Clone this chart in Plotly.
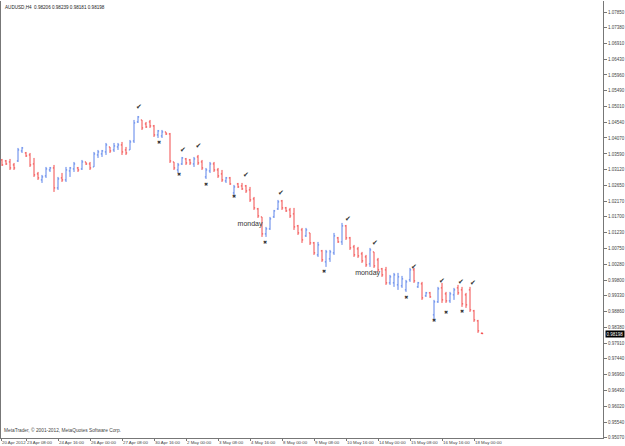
import plotly.graph_objects as go

# ---- data (AUDUSD H4) ----
opens = [1.0341,1.0338,1.0335,1.0326,1.0338,1.0368,1.0362,1.0356,1.0329,1.0299,
         1.0281,1.0293,1.0311,1.0317,1.0257,1.0287,1.0281,1.0308,1.0314,1.0317,
         1.0314,1.0335,1.0329,1.0320,1.0356,1.0359,1.0365,1.0380,1.0371,1.0380,
         1.0386,1.0371,1.0371,1.0398,1.0455,1.0461,1.0449,1.0455,1.0443,1.0416,
         1.0413,1.0425,1.0419,1.0335,1.0311,1.0329,1.0344,1.0341,1.0329,1.0350,
         1.0335,1.0290,1.0308,1.0329,1.0311,1.0299,1.0278,1.0287,1.0242,1.0269,
         1.0263,1.0263,1.0251,1.0224,1.0194,1.0170,1.0119,1.0134,1.0170,1.0194,
         1.0218,1.0197,1.0191,1.0179,1.0143,1.0131,1.0113,1.0122,1.0092,1.0056,
         1.0068,1.0035,1.0044,1.0062,1.0107,1.0095,1.0143,1.0107,1.0080,1.0074,
         1.0059,1.0050,1.0029,1.0065,1.0041,1.0014,1.0011,0.9972,0.9972,0.9966,
         0.9963,0.9951,0.9981,1.0011,0.9960,0.9969,0.9933,0.9942,0.9876,0.9915,
         0.9957,0.9939,0.9918,0.9936,0.9957,0.9951,0.9936,0.9951,0.9888,0.9858,
         0.98206]
highs = [1.0344,1.0341,1.0344,1.0332,1.0377,1.0380,1.0365,1.0362,1.0347,1.0305,
         1.0296,1.0320,1.0320,1.0326,1.0290,1.0302,1.0320,1.0320,1.0335,1.0320,
         1.0341,1.0335,1.0335,1.0365,1.0371,1.0371,1.0392,1.0380,1.0392,1.0392,
         1.0395,1.0380,1.0401,1.0461,1.0473,1.0461,1.0455,1.0461,1.0446,1.0431,
         1.0431,1.0425,1.0422,1.0335,1.0332,1.0350,1.0347,1.0344,1.0350,1.0356,
         1.0341,1.0317,1.0335,1.0335,1.0317,1.0311,1.0290,1.0290,1.0266,1.0272,
         1.0272,1.0266,1.0260,1.0230,1.0197,1.0170,1.0140,1.0170,1.0191,1.0221,
         1.0221,1.0200,1.0197,1.0197,1.0146,1.0137,1.0137,1.0122,1.0095,1.0095,
         1.0071,1.0071,1.0071,1.0122,1.0110,1.0152,1.0146,1.0110,1.0086,1.0080,
         1.0065,1.0056,1.0077,1.0065,1.0047,1.0017,1.0020,0.9996,1.0002,1.0002,
         0.9993,0.9981,1.0017,1.0017,0.9975,0.9975,0.9945,0.9945,0.9921,0.9960,
         0.9972,0.9945,0.9945,0.9957,0.9966,0.9960,0.9942,0.9960,0.9891,0.9861,
         0.98239]
lows = [1.0323,1.0326,1.0311,1.0311,1.0335,1.0362,1.0350,1.0320,1.0290,1.0281,
        1.0272,1.0287,1.0305,1.0245,1.0251,1.0275,1.0275,1.0290,1.0305,1.0305,
        1.0311,1.0326,1.0311,1.0320,1.0347,1.0350,1.0356,1.0362,1.0365,1.0371,
        1.0356,1.0356,1.0371,1.0392,1.0452,1.0431,1.0437,1.0437,1.0410,1.0407,
        1.0407,1.0416,1.0332,1.0311,1.0302,1.0326,1.0326,1.0326,1.0320,1.0326,
        1.0311,1.0284,1.0302,1.0305,1.0287,1.0275,1.0272,1.0266,1.0236,1.0257,
        1.0251,1.0242,1.0215,1.0191,1.0167,1.0110,1.0110,1.0131,1.0167,1.0191,
        1.0191,1.0185,1.0167,1.0131,1.0116,1.0092,1.0110,1.0086,1.0056,1.0050,
        1.0035,1.0020,1.0035,1.0056,1.0092,1.0086,1.0101,1.0071,1.0050,1.0047,
        1.0032,1.0020,1.0020,1.0017,1.0005,0.9990,0.9966,0.9966,0.9960,0.9951,
        0.9957,0.9945,0.9975,0.9972,0.9957,0.9921,0.9930,0.9927,0.9861,0.9912,
        0.9912,0.9912,0.9912,0.9921,0.9936,0.9900,0.9897,0.9885,0.9855,0.9822,
        0.98181]
closes = [1.0326,1.0329,1.0317,1.0317,1.0371,1.0377,1.0353,1.0326,1.0296,1.0287,
          1.0290,1.0314,1.0317,1.0257,1.0284,1.0281,1.0311,1.0317,1.0329,1.0311,
          1.0335,1.0329,1.0317,1.0359,1.0365,1.0368,1.0386,1.0368,1.0383,1.0386,
          1.0365,1.0362,1.0395,1.0452,1.0470,1.0437,1.0440,1.0443,1.0416,1.0428,
          1.0425,1.0419,1.0338,1.0317,1.0326,1.0347,1.0332,1.0332,1.0344,1.0332,
          1.0317,1.0311,1.0329,1.0311,1.0293,1.0281,1.0287,1.0269,1.0260,1.0260,
          1.0254,1.0248,1.0221,1.0197,1.0173,1.0119,1.0134,1.0164,1.0188,1.0215,
          1.0197,1.0188,1.0173,1.0140,1.0122,1.0101,1.0131,1.0092,1.0062,1.0086,
          1.0041,1.0065,1.0065,1.0113,1.0095,1.0143,1.0107,1.0077,1.0056,1.0053,
          1.0038,1.0026,1.0071,1.0023,1.0011,0.9996,0.9972,0.9990,0.9996,0.9990,
          0.9984,0.9975,1.0011,0.9978,0.9972,0.9927,0.9942,0.9930,0.9915,0.9954,
          0.9921,0.9918,0.9939,0.9951,0.9942,0.9909,0.9906,0.9891,0.9861,0.9828,
          0.98198]
first_bar = 2  # bar number of the first visible bar (20 Apr 08:00)

date_labels = ["20 Apr 2012", "23 Apr 08:00", "24 Apr 16:00", "26 Apr 00:00",
               "27 Apr 08:00", "30 Apr 16:00", "2 May 00:00", "3 May 08:00",
               "4 May 16:00", "8 May 00:00", "9 May 08:00", "10 May 16:00",
               "14 May 00:00", "15 May 08:00", "16 May 16:00", "18 May 00:00"]
date_tick_bars = [1.75, 8, 16, 24, 32, 40, 48, 56, 64, 72, 80, 88, 96, 104, 112, 120]

price_ticks = [1.07850, 1.07380, 1.06910, 1.06430, 1.05960, 1.05490, 1.05010,
               1.04540, 1.04070, 1.03590, 1.03120, 1.02650, 1.02170, 1.01700,
               1.01230, 1.00750, 1.00280, 0.99800, 0.99330, 0.98860, 0.98380,
               0.97910, 0.97440, 0.96960, 0.96490, 0.96020, 0.95540, 0.95070]

check_bars = [36.25, 47.25, 51.1, 63.0, 71.75, 88.5, 95.25, 105.0, 112.0, 116.75, 119.75]
check_prices = [1.0500, 1.0371, 1.0383, 1.0296, 1.0242, 1.0164, 1.0092, 1.0020, 0.9978, 0.9975, 0.9972]
cross_bars = [41.25, 46.25, 53.0, 60.0, 67.75, 82.5, 103.1, 110.0, 113.0, 117.0]
cross_prices = [1.0392, 1.0296, 1.0266, 1.0230, 1.0092, 1.0005, 0.9927, 0.9858, 0.9882, 0.9885]
monday_bars = [64.0, 93.4]
monday_prices = [1.0149, 1.0002]

last_price = 0.98198
title_text = "AUDUSD,H4  0.98206 0.98239 0.98181 0.98198"
copyright_text = "MetaTrader, © 2001-2012, MetaQuotes Software Corp."

# ---- figure ----
bars_x = list(range(first_bar, first_bar + len(opens)))
BLUE = "#5a82ea"
RED = "#f24a4a"
FONT = "Liberation Sans"

fig = go.Figure()
fig.add_trace(go.Ohlc(
    x=bars_x, open=opens, high=highs, low=lows, close=closes,
    increasing=dict(line=dict(color=BLUE, width=1)),
    decreasing=dict(line=dict(color=RED, width=1)),
    tickwidth=0.3, hoverinfo="skip", showlegend=False))

fig.add_trace(go.Scatter(
    x=check_bars, y=check_prices, mode="text", text=["✔"] * len(check_bars),
    textfont=dict(family="DejaVu Sans", size=7, color="#333333"),
    hoverinfo="skip", showlegend=False))
fig.add_trace(go.Scatter(
    x=cross_bars, y=cross_prices, mode="text", text=["✖"] * len(cross_bars),
    textfont=dict(family="DejaVu Sans", size=5, color="#333333"),
    hoverinfo="skip", showlegend=False))
fig.add_trace(go.Scatter(
    x=monday_bars, y=monday_prices, mode="text", text=["monday"] * len(monday_bars),
    textfont=dict(family=FONT, size=7, color="#333333"),
    hoverinfo="skip", showlegend=False))

fig.update_layout(
    width=625, height=446,
    margin=dict(l=1, r=22, t=1, b=8, autoexpand=False),
    paper_bgcolor="white", plot_bgcolor="white",
    showlegend=False,
    font=dict(family=FONT, size=4.5, color="#444444"),
    xaxis=dict(
        range=[1.75, 152.25], rangeslider=dict(visible=False),
        tickmode="array", tickvals=date_tick_bars, ticktext=date_labels,
        ticklabelposition="outside right", tickangle=0, automargin=False,
        ticks="outside", ticklen=2, tickcolor="#777777",
        tickfont=dict(size=4.4, color="#444444"),
        showgrid=False, zeroline=False,
        showline=True, linecolor="#777777", linewidth=1, mirror=False,
    ),
    yaxis=dict(
        range=[0.95065, 1.0818], side="right", automargin=False,
        tickmode="array", tickvals=price_ticks,
        ticktext=[f"{v:.5f}" for v in price_ticks],
        ticks="outside", ticklen=3, tickcolor="#777777",
        tickfont=dict(size=4.5, color="#444444"),
        showgrid=False, zeroline=False,
        showline=True, linecolor="#777777", linewidth=1, mirror=True,
    ),
)

fig.add_annotation(
    xref="paper", yref="paper", x=0, y=1, xanchor="left", yanchor="top",
    xshift=2, yshift=-2, text=title_text, showarrow=False,
    font=dict(family=FONT, size=4.6, color="#222222"))
fig.add_annotation(
    xref="paper", yref="paper", x=0, y=0.018, xanchor="left", yanchor="middle",
    xshift=1, text=copyright_text, showarrow=False,
    font=dict(family=FONT, size=4.8, color="#444444"))
fig.add_annotation(
    xref="paper", yref="y", x=1, y=last_price, xanchor="left", yanchor="middle",
    xshift=2, text=f"{last_price:.5f}", showarrow=False, bgcolor="black",
    borderpad=0.5, font=dict(family=FONT, size=4.5, color="white"))

fig.write_html("out.html")
